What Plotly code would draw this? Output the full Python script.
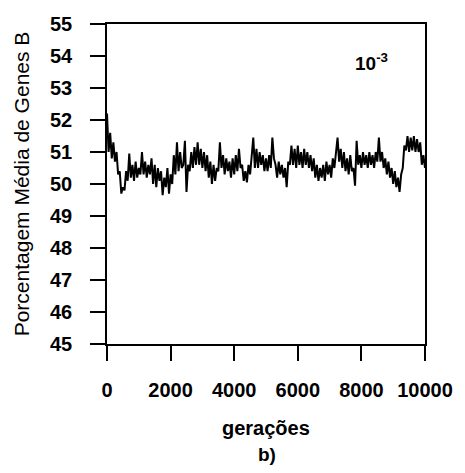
import plotly.graph_objects as go

# Values, one every 50 generations (0..10000)
step = 50
pct_b = [
    52.2, 51.0, 51.6, 50.8, 51.3, 50.7, 51.0, 50.3, 50.4, 49.7,
    49.9, 49.8, 50.4, 50.1, 50.95, 50.2, 50.6, 50.1, 50.7, 50.2,
    50.5, 50.3, 51.0, 50.3, 50.7, 50.2, 50.6, 50.3, 50.8, 50.0,
    50.6, 49.9, 50.5, 50.1, 50.4, 49.65, 50.2, 49.9, 50.5, 49.7,
    50.3, 50.0, 50.9, 50.3, 51.3, 50.4, 51.0, 50.5, 50.6, 51.35,
    49.75, 50.6, 50.4, 51.0, 50.5, 51.15, 50.6, 51.3, 50.6, 51.1,
    50.5, 51.0, 50.4, 50.9, 50.2, 50.7, 50.0, 50.6, 50.1, 50.5,
    50.4, 51.3, 50.5, 50.9, 50.3, 50.8, 50.4, 50.7, 50.2, 50.8,
    50.3, 50.9, 50.4, 51.1, 50.5, 50.6, 50.1, 50.4, 50.05, 50.6,
    50.3, 50.9, 51.45, 50.5, 51.1, 50.5, 51.0, 50.6, 50.9, 50.4,
    50.8, 50.4, 50.9, 50.5, 51.45, 50.8, 50.6, 50.2, 50.7, 50.3,
    50.6, 50.2, 50.5, 49.9, 50.7, 50.6, 51.2, 50.6, 51.1, 50.5,
    51.2, 50.6, 51.0, 50.5, 51.1, 50.6, 51.0, 50.5, 50.9, 50.4,
    50.8, 50.2, 50.6, 50.1, 50.5, 50.2, 50.6, 50.1, 50.7, 50.3,
    50.6, 50.2, 50.8, 50.5, 51.0, 51.45, 50.7, 51.1, 50.5, 51.0,
    50.4, 50.8, 50.3, 50.9, 50.4, 50.5, 49.95, 51.35, 50.6, 50.9,
    50.5, 51.0, 50.6, 50.9, 50.5, 51.0, 50.6, 50.9, 50.5, 51.0,
    50.7, 51.45, 50.7, 51.0, 50.5, 50.8, 50.3, 50.7, 50.2, 50.5,
    50.0, 50.4, 49.9, 50.2, 49.75, 50.3, 50.5, 51.2, 51.05, 51.5,
    51.0, 51.45, 51.05, 51.5, 51.0, 51.4, 51.0, 51.3, 50.6, 50.9,
    50.5,
]
geracoes = [i * step for i in range(len(pct_b))]

x_ticks = [0, 2000, 4000, 6000, 8000, 10000]
y_ticks = [45, 46, 47, 48, 49, 50, 51, 52, 53, 54, 55]

y_title = "Porcentagem Média de Genes B"
x_title = "gerações"
panel = "b)"
rate = "10<sup>-3</sup>"

FONT = "Liberation Sans, Arial, sans-serif"

fig = go.Figure()
fig.add_trace(go.Scatter(x=geracoes, y=pct_b, mode="lines",
                         line=dict(color="black", width=2),
                         showlegend=False, hoverinfo="skip"))

L, R, T, B = 107, 430, 24, 344
W, H = 465, 473

def px(xp):
    return (xp - L) / (R - L)

def py(yp):
    return (B - yp) / (B - T)

fig.update_layout(
    width=W, height=H,
    margin=dict(l=L, r=W - R, t=T, b=H - B, pad=0),
    plot_bgcolor="white", paper_bgcolor="white",
    font=dict(family=FONT, color="black"),
    xaxis=dict(range=[0, 10000], tickvals=x_ticks, ticktext=[str(v) for v in x_ticks],
               showgrid=False, zeroline=False, showline=True, linecolor="black", linewidth=1.5,
               mirror=True, ticks="outside", ticklen=15, tickwidth=1.5, tickcolor="black",
               ticklabelstandoff=12,
               tickfont=dict(family=FONT, size=20, color="black", weight="bold")),
    yaxis=dict(range=[45, 55], tickvals=y_ticks, ticktext=[str(v) for v in y_ticks],
               showgrid=False, zeroline=False, showline=True, linecolor="black", linewidth=1.5,
               mirror=True, ticks="outside", ticklen=15, tickwidth=1.5, tickcolor="black",
               ticklabelstandoff=14,
               tickfont=dict(family=FONT, size=20, color="black", weight="bold")),
    annotations=[
        dict(text=y_title, xref="paper", yref="paper", x=px(20), y=py(184),
             textangle=-90, showarrow=False, xanchor="center", yanchor="middle",
             font=dict(family=FONT, size=21, color="black")),
        dict(text=x_title, xref="paper", yref="paper", x=px(268), y=py(428),
             showarrow=False, xanchor="center", yanchor="middle",
             font=dict(family=FONT, size=20, color="black", weight="bold")),
        dict(text=panel, xref="paper", yref="paper", x=px(270), y=py(454),
             showarrow=False, xanchor="center", yanchor="middle",
             font=dict(family=FONT, size=19, color="black", weight="bold")),
        dict(text=rate, xref="paper", yref="paper", x=px(357), y=py(62),
             showarrow=False, xanchor="left", yanchor="middle",
             font=dict(family=FONT, size=19, color="black", weight="bold")),
    ],
)

fig.write_html("out.html")
